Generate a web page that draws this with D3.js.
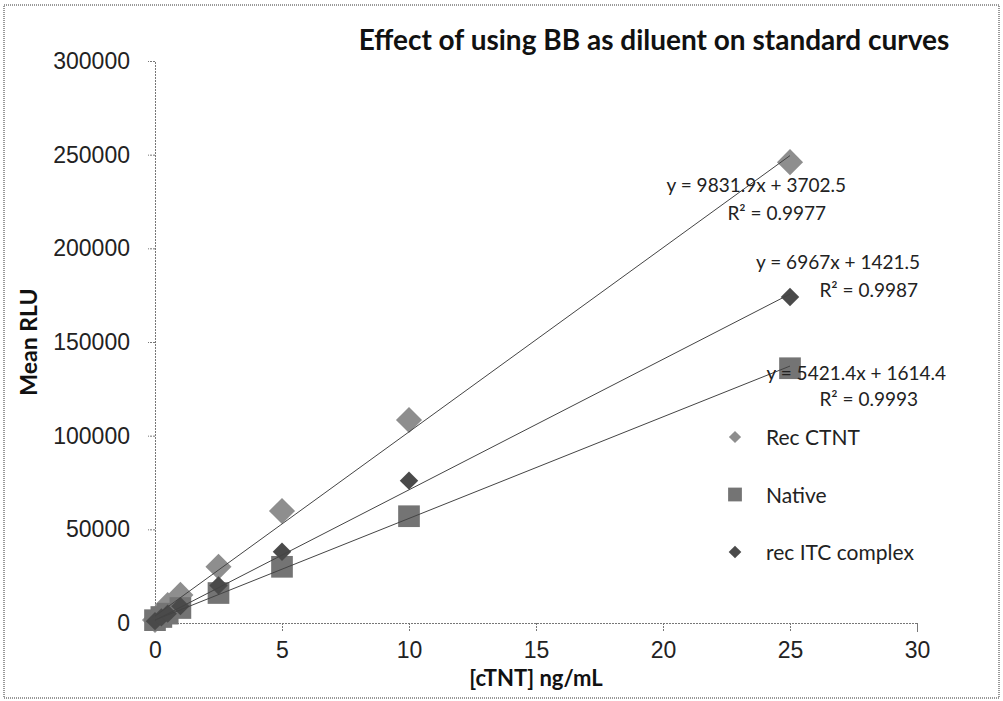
<!DOCTYPE html>
<html>
<head>
<meta charset="utf-8">
<script src="https://cdn.jsdelivr.net/npm/d3@7"></script>
<style>
  body { margin: 0; background: #fff; }
  svg { display: block; font-family: Lato, "Open Sans", sans-serif; }
</style>
</head>
<body>
<svg width="1003" height="701"></svg>
<script>
// Data
const concentrations = [0, 0.25, 0.5, 1, 2.5, 5, 10, 25];
const recCtnt = [1600, 5500, 9600, 15000, 30000, 59800, 108400, 246000];
const nativeVals = [1500, 3200, 5000, 8000, 16000, 30000, 57000, 136000];
const recItc = [1000, 3000, 5000, 9000, 20000, 38000, 76000, 174000];

const seriesNames = ["Rec CTNT", "Native", "rec ITC complex"];
const slopes = [9831.9, 6967, 5421.4];
const intercepts = [3702.5, 1421.5, 1614.4];
const eqLines = [
  ["y = 9831.9x + 3702.5", "R² = 0.9977"],
  ["y = 6967x + 1421.5", "R² = 0.9987"],
  ["y = 5421.4x + 1614.4", "R² = 0.9993"]
];
const xTicks = [0, 5, 10, 15, 20, 25, 30];
const yTicks = [0, 50000, 100000, 150000, 200000, 250000, 300000];

const svg = d3.select("svg");
const width = +svg.attr("width");
const height = +svg.attr("height");

// outer dotted frame
svg.append("rect")
  .attr("x", 4).attr("y", 5)
  .attr("width", width - 8).attr("height", height - 8)
  .attr("fill", "none")
  .attr("stroke", "#333")
  .attr("stroke-dasharray", "1,1");

const x = d3.scaleLinear().domain([0, 30]).range([155, 917]);
const y = d3.scaleLinear().domain([0, 300000]).range([623, 61]);

// axes
const xAxis = svg.append("g")
  .attr("transform", `translate(0,${y(0)})`)
  .call(d3.axisBottom(x).tickValues(xTicks).tickSize(9).tickPadding(10).tickFormat(d3.format("d")));
const yAxis = svg.append("g")
  .attr("transform", `translate(${x(0)},0)`)
  .call(d3.axisLeft(y).tickValues(yTicks).tickSize(7).tickPadding(18).tickFormat(d3.format("d")));

[xAxis, yAxis].forEach(g => {
  g.select(".domain").attr("stroke", "#777").attr("stroke-dasharray", "2,1");
  g.selectAll(".tick line").attr("stroke", "#777").attr("stroke-dasharray", "2,1");
  g.selectAll(".tick text").attr("fill", "#222").style("font-size", "23px");
});

// titles
svg.append("text")
  .attr("x", 654).attr("y", 50)
  .attr("text-anchor", "middle")
  .style("font-size", "28px").style("font-weight", "bold")
  .attr("fill", "#111")
  .text("Effect of using BB as diluent on standard curves");

svg.append("text")
  .attr("x", 536).attr("y", 686)
  .attr("text-anchor", "middle")
  .style("font-size", "22px").style("font-weight", "bold")
  .attr("fill", "#111")
  .text("[cTNT] ng/mL");

svg.append("text")
  .attr("transform", "translate(37,342) rotate(-90)")
  .attr("text-anchor", "middle")
  .style("font-size", "23px").style("font-weight", "bold")
  .attr("fill", "#111")
  .text("Mean RLU");

// series
const series = [
  { name: seriesNames[0], values: recCtnt, shape: "diamond", size: 340, legendSize: 75, fill: "#8e8e8e" },
  { name: seriesNames[1], values: nativeVals, shape: "square", size: 470, legendSize: 190, fill: "#747474" },
  { name: seriesNames[2], values: recItc, shape: "diamond", size: 170, legendSize: 80, fill: "#4a4a4a" }
];

const symbolPath = size => d3.symbol().type(d3.symbolSquare).size(size)();

series.forEach(s => {
  svg.append("g")
    .selectAll("path")
    .data(concentrations.map((c, i) => [c, s.values[i]]))
    .join("path")
    .attr("d", symbolPath(s.size))
    .attr("transform", d => `translate(${x(d[0])},${y(d[1])})` + (s.shape === "diamond" ? " rotate(45)" : ""))
    .attr("fill", s.fill);
});

// linear trendlines
series.forEach((s, i) => {
  const ends = [0, 25];
  svg.append("line")
    .attr("x1", x(ends[0])).attr("y1", y(slopes[i] * ends[0] + intercepts[i]))
    .attr("x2", x(ends[1])).attr("y2", y(slopes[i] * ends[1] + intercepts[i]))
    .attr("stroke", "#444")
    .attr("stroke-width", 1);
});

// equation labels
const eqPos = [[846, 192, 826, 220], [920, 269, 918, 297], [946, 380, 918, 406]];
eqLines.forEach((lines, i) => {
  const p = eqPos[i];
  svg.append("text").attr("x", p[0]).attr("y", p[1]).attr("text-anchor", "end")
    .style("font-size", "19px").attr("fill", "#222").text(lines[0]);
  svg.append("text").attr("x", p[2]).attr("y", p[3]).attr("text-anchor", "end")
    .style("font-size", "19px").attr("fill", "#222").text(lines[1]);
});

// legend
const legend = svg.append("g").attr("transform", "translate(735,437)");
series.forEach((s, i) => {
  const row = legend.append("g").attr("transform", `translate(0,${i * 57.5})`);
  row.append("path")
    .attr("d", symbolPath(s.legendSize))
    .attr("transform", s.shape === "diamond" ? "rotate(45)" : null)
    .attr("fill", s.fill);
  row.append("text")
    .attr("x", 31).attr("y", 8)
    .style("font-size", "21px").attr("fill", "#222")
    .text(s.name);
});
</script>
</body>
</html>
